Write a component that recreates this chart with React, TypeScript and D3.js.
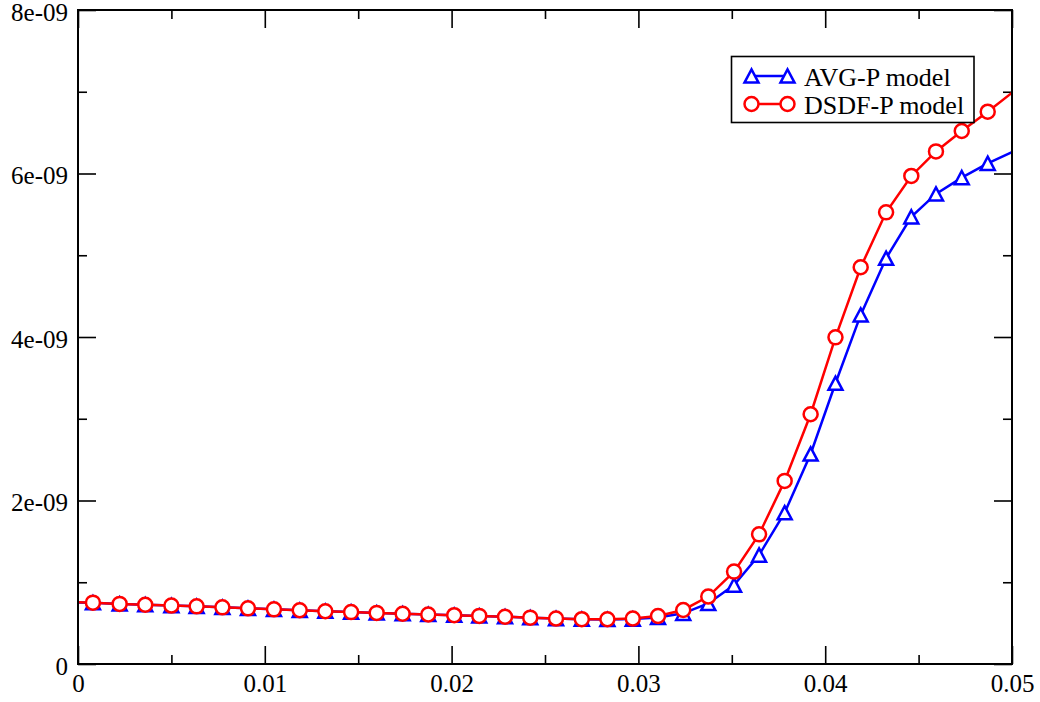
import React, { useEffect, useRef } from 'react';
import * as d3 from 'd3';

// x positions of the samples (first one lies left of the axis, last one right of it)
const xValues = [
  -0.00057, 0.0008, 0.00223, 0.0036, 0.005, 0.00635, 0.00773, 0.0091, 0.01049, 0.01187,
  0.01324, 0.01462, 0.01599, 0.01738, 0.01875, 0.02014, 0.02148, 0.02286, 0.02421, 0.02559,
  0.02697, 0.02834, 0.0297, 0.03105, 0.0324, 0.03374, 0.03512, 0.03646, 0.03783, 0.03922,
  0.04055, 0.0419, 0.04326, 0.04461, 0.04593, 0.04731, 0.0487, 0.05007,
];

// values in units of 1e-09
const avgP = [
  0.755, 0.75, 0.735, 0.725, 0.715, 0.705, 0.693, 0.681, 0.669, 0.657,
  0.645, 0.635, 0.625, 0.615, 0.606, 0.597, 0.588, 0.578, 0.567, 0.556,
  0.548, 0.545, 0.55, 0.57, 0.62, 0.74, 0.966, 1.333, 1.851, 2.569,
  3.434, 4.27, 4.963, 5.47, 5.75, 5.95, 6.125, 6.27,
];

const dsdfP = [
  0.76, 0.75, 0.735, 0.725, 0.715, 0.705, 0.693, 0.681, 0.669, 0.657,
  0.645, 0.635, 0.625, 0.615, 0.606, 0.597, 0.588, 0.578, 0.567, 0.556,
  0.548, 0.547, 0.556, 0.587, 0.661, 0.825, 1.13, 1.586, 2.24, 3.055,
  3.996, 4.853, 5.525, 5.97, 6.27, 6.52, 6.756, 7.0,
];

const xTicks = [0, 0.01, 0.02, 0.03, 0.04, 0.05];
const xTickLabels = ['0', '0.01', '0.02', '0.03', '0.04', '0.05'];
const xMinorTicks = [0.005, 0.015, 0.025, 0.035, 0.045];
const yTicks = [0, 2, 4, 6, 8];
const yTickLabels = ['0', '2e-09', '4e-09', '6e-09', '8e-09'];
const yMinorTicks = [1, 3, 5, 7];
const seriesNames = ['AVG-P model', 'DSDF-P model'];
const seriesColors = ['#0000ff', '#ff0000'];

const FONT = '"Liberation Serif", "Times New Roman", serif';

const App = () => {
  const ref = useRef<SVGSVGElement>(null);

  useEffect(() => {
    const svg = d3.select(ref.current);
    svg.selectAll('*').remove();

    const width = 1040, height = 702;
    const margin = { top: 10, right: 28, bottom: 38, left: 78 };
    const x0 = margin.left, x1 = width - margin.right;
    const y0 = height - margin.bottom, y1 = margin.top;

    const x = d3.scaleLinear().domain([0, 0.05]).range([x0, x1]);
    const y = d3.scaleLinear().domain([0, 8]).range([y0, y1]);

    svg.append('rect').attr('width', width).attr('height', height).attr('fill', '#fff');

    svg.append('defs').append('clipPath').attr('id', 'plotclip')
      .append('rect').attr('x', x0).attr('y', y1).attr('width', x1 - x0).attr('height', y0 - y1);

    // ticks on all four sides, pointing inward
    const tickStyle = (g: any) => {
      g.select('.domain').remove();
      g.selectAll('line').attr('stroke', '#000').attr('stroke-width', 1.6);
      g.selectAll('text')
        .style('font-family', FONT)
        .style('font-size', '25px')
        .attr('fill', '#000');
    };

    svg.append('g').attr('transform', `translate(0,${y0})`)
      .call(d3.axisBottom(x).tickValues(xTicks).tickSize(-18).tickPadding(0)
        .tickFormat((d, i) => xTickLabels[i]))
      .call(tickStyle)
      .selectAll('text').attr('y', 28).attr('dy', null);
    svg.append('g').attr('transform', `translate(0,${y0})`)
      .call(d3.axisBottom(x).tickValues(xMinorTicks).tickSize(-9).tickFormat(() => ''))
      .call(tickStyle);
    svg.append('g').attr('transform', `translate(0,${y1})`)
      .call(d3.axisTop(x).tickValues(xTicks).tickSize(-18).tickFormat(() => ''))
      .call(tickStyle);
    svg.append('g').attr('transform', `translate(0,${y1})`)
      .call(d3.axisTop(x).tickValues(xMinorTicks).tickSize(-9).tickFormat(() => ''))
      .call(tickStyle);

    svg.append('g').attr('transform', `translate(${x0},0)`)
      .call(d3.axisLeft(y).tickValues(yTicks).tickSize(-18).tickPadding(10)
        .tickFormat((d, i) => yTickLabels[i]))
      .call(tickStyle)
      .selectAll('text').attr('dy', '0.4em');
    svg.append('g').attr('transform', `translate(${x0},0)`)
      .call(d3.axisLeft(y).tickValues(yMinorTicks).tickSize(-9).tickFormat(() => ''))
      .call(tickStyle);
    svg.append('g').attr('transform', `translate(${x1},0)`)
      .call(d3.axisRight(y).tickValues(yTicks).tickSize(-18).tickFormat(() => ''))
      .call(tickStyle);
    svg.append('g').attr('transform', `translate(${x1},0)`)
      .call(d3.axisRight(y).tickValues(yMinorTicks).tickSize(-9).tickFormat(() => ''))
      .call(tickStyle);

    const triangle = 'M0,-6.6L7,6.6L-7,6.6Z';
    const series = [avgP, dsdfP];

    const plot = svg.append('g').attr('clip-path', 'url(#plotclip)');
    series.forEach((vals, s) => {
      const pts = xValues.map((xv, i) => ({ x: xv, y: vals[i] }));
      const line = d3.line<{ x: number; y: number }>().x(d => x(d.x)).y(d => y(d.y));
      const g = plot.append('g');
      g.append('path').datum(pts)
        .attr('d', line)
        .attr('fill', 'none')
        .attr('stroke', seriesColors[s])
        .attr('stroke-width', 2.5);
      const inside = pts.filter(d => d.x > 0 && d.x < 0.05);
      if (s === 0) {
        g.selectAll('path.m').data(inside).join('path')
          .attr('class', 'm')
          .attr('d', triangle)
          .attr('transform', d => `translate(${x(d.x)},${y(d.y)})`)
          .attr('fill', '#fff')
          .attr('stroke', seriesColors[s])
          .attr('stroke-width', 2.5);
      } else {
        g.selectAll('circle').data(inside).join('circle')
          .attr('cx', d => x(d.x))
          .attr('cy', d => y(d.y))
          .attr('r', 7)
          .attr('fill', '#fff')
          .attr('stroke', seriesColors[s])
          .attr('stroke-width', 2.5);
      }
    });

    // frame
    svg.append('rect')
      .attr('x', x0).attr('y', y1)
      .attr('width', x1 - x0).attr('height', y0 - y1)
      .attr('fill', 'none').attr('stroke', '#000').attr('stroke-width', 2);

    // legend
    const lg = svg.append('g');
    lg.append('rect')
      .attr('x', 731.5).attr('y', 56.5).attr('width', 242.5).attr('height', 66)
      .attr('fill', '#fff').attr('stroke', '#000').attr('stroke-width', 1.6);
    seriesNames.forEach((name, s) => {
      const cy = 76 + s * 28;
      const row = lg.append('g');
      row.append('line')
        .attr('x1', 751.5).attr('x2', 787.5).attr('y1', cy).attr('y2', cy)
        .attr('stroke', seriesColors[s]).attr('stroke-width', 2.5);
      [751.5, 787.5].forEach(cx => {
        if (s === 0) {
          row.append('path').attr('d', triangle)
            .attr('transform', `translate(${cx},${cy})`)
            .attr('fill', '#fff').attr('stroke', seriesColors[s]).attr('stroke-width', 2.5);
        } else {
          row.append('circle').attr('cx', cx).attr('cy', cy).attr('r', 7)
            .attr('fill', '#fff').attr('stroke', seriesColors[s]).attr('stroke-width', 2.5);
        }
      });
      row.append('text')
        .attr('x', 804).attr('y', cy + 10)
        .style('font-family', FONT).style('font-size', '26px')
        .attr('fill', '#000')
        .text(name);
    });
  }, []);

  return (
    <svg ref={ref} width={1040} height={702}
      style={{ position: 'absolute', left: 0, top: 0, display: 'block' }} />
  );
};

export default App;
